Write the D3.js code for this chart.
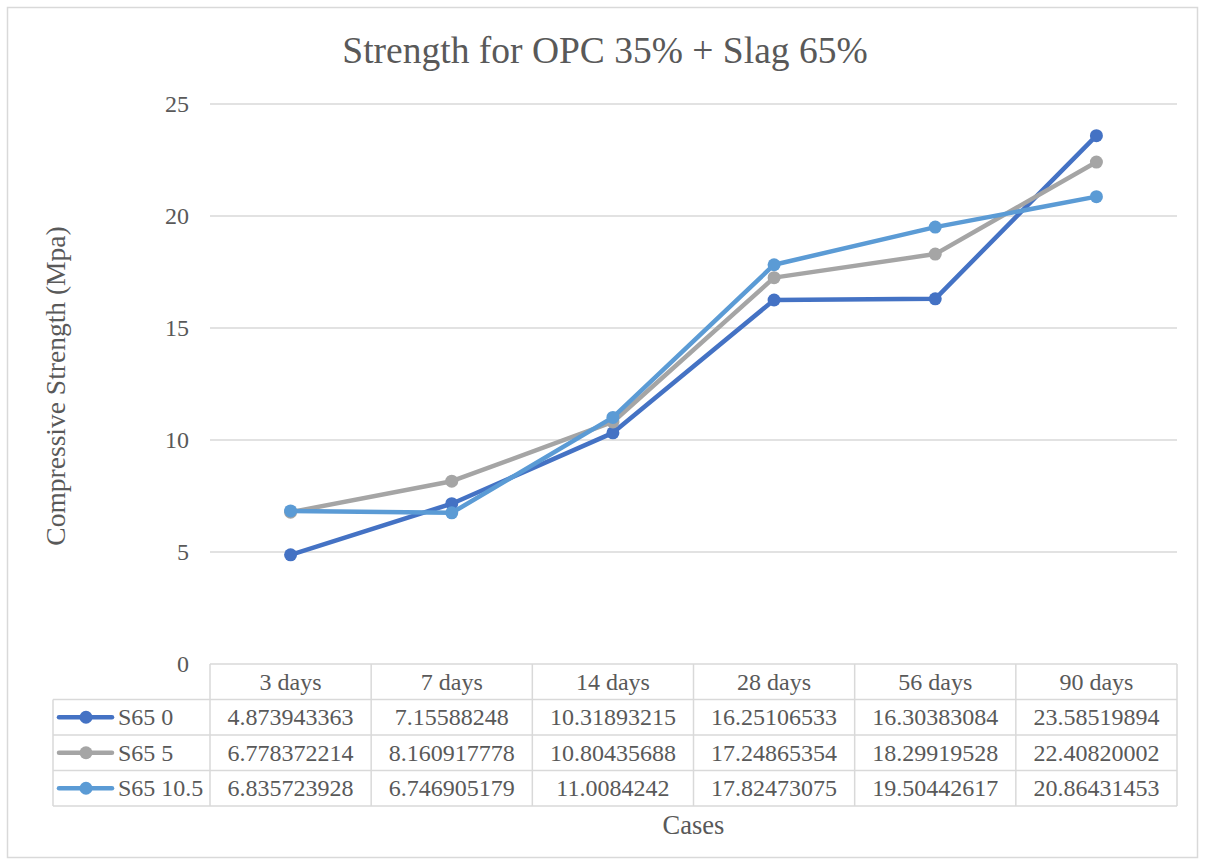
<!DOCTYPE html>
<html lang="en">
<head>
<meta charset="UTF-8">
<title>Strength for OPC 35% + Slag 65%</title>
<script src="https://d3js.org/d3.v7.min.js"></script>
<style>
  body { margin: 0; background: #fff; }
  svg text { font-family: 'Liberation Serif', 'Times New Roman', serif; fill: #595959; }
</style>
</head>
<body>
<div id="chart"></div>
<script>
const categories = ["3 days", "7 days", "14 days", "28 days", "56 days", "90 days"];
const seriesNames = ["S65 0", "S65 5", "S65 10.5"];
const s65_0 = [4.873943363, 7.15588248, 10.31893215, 16.25106533, 16.30383084, 23.58519894];
const s65_5 = [6.778372214, 8.160917778, 10.80435688, 17.24865354, 18.29919528, 22.40820002];
const s65_105 = [6.835723928, 6.746905179, 11.0084242, 17.82473075, 19.50442617, 20.86431453];
const yTicks = [0, 5, 10, 15, 20, 25];
const colors = ["#4472C4", "#A5A5A5", "#5B9BD5"];

const series = seriesNames.map((name, i) => ({ name, values: [s65_0, s65_5, s65_105][i], color: colors[i] }));

const W = 1205, H = 865;
const plotL = 210, plotR = 1177, plotT = 104, plotB = 664;
const rowH = 35.5, legendX = 53;
const fs = "24px";

const svg = d3.select("#chart").append("svg").attr("width", W).attr("height", H);

// outer frame
svg.append("rect").attr("x", 7.5).attr("y", 7.5).attr("width", 1190).attr("height", 850)
  .attr("fill", "#fff").attr("stroke", "#d9d9d9").attr("stroke-width", 1.5);

const x = d3.scaleBand().domain(categories).range([plotL, plotR]).padding(0);
const cx = d => x(d) + x.bandwidth() / 2;
const y = d3.scaleLinear().domain([0, 25]).range([plotB, plotT]);

// title
svg.append("text").attr("x", 605).attr("y", 63).attr("text-anchor", "middle")
  .style("font-size", "37.5px").text("Strength for OPC 35% + Slag 65%");

// gridlines
svg.append("g").selectAll("line").data(yTicks.filter(t => t > 0)).join("line")
  .attr("x1", plotL).attr("x2", plotR)
  .attr("y1", d => y(d)).attr("y2", d => y(d))
  .attr("stroke", "#d9d9d9").attr("stroke-width", 1.5);

// y axis labels
const yAxis = d3.axisLeft(y).tickValues(yTicks).tickSize(0).tickPadding(0);
const gy = svg.append("g").attr("transform", "translate(189,0)").call(yAxis);
gy.select(".domain").remove();
gy.selectAll("text").attr("fill", "#595959")
  .style("font-size", fs).style("font-family", "'Liberation Serif', serif");

svg.append("text").attr("transform", "translate(65,386) rotate(-90)")
  .attr("text-anchor", "middle").style("font-size", "27.5px").text("Compressive Strength (Mpa)");

// lines + markers
const line = d3.line().x((d, i) => cx(categories[i])).y(d => y(d));
const gs = svg.append("g").selectAll("g").data(series).join("g");
gs.append("path").attr("d", d => line(d.values)).attr("fill", "none")
  .attr("stroke", d => d.color).attr("stroke-width", 4.5).attr("stroke-linejoin", "round").attr("stroke-linecap", "round");
gs.selectAll("circle").data(d => d.values.map((v, i) => ({ v, i, color: d.color }))).join("circle")
  .attr("cx", d => cx(categories[d.i])).attr("cy", d => y(d.v)).attr("r", 6.5)
  .attr("fill", d => d.color);

// data table
const tb = svg.append("g");
const border = "#d9d9d9";
const tableBottom = plotB + rowH * 4;
tb.append("line").attr("x1", plotL).attr("x2", plotR).attr("y1", plotB).attr("y2", plotB)
  .attr("stroke", border).attr("stroke-width", 1.5);
d3.range(1, 5).forEach(r => {
  tb.append("line").attr("x1", legendX).attr("x2", plotR)
    .attr("y1", plotB + rowH * r).attr("y2", plotB + rowH * r)
    .attr("stroke", border).attr("stroke-width", 1.5);
});
tb.append("line").attr("x1", legendX).attr("x2", legendX).attr("y1", plotB + rowH).attr("y2", tableBottom)
  .attr("stroke", border).attr("stroke-width", 1.5);
categories.forEach(c => {
  tb.append("line").attr("x1", x(c)).attr("x2", x(c)).attr("y1", plotB).attr("y2", tableBottom)
    .attr("stroke", border).attr("stroke-width", 1.5);
});
tb.append("line").attr("x1", plotR).attr("x2", plotR).attr("y1", plotB).attr("y2", tableBottom)
  .attr("stroke", border).attr("stroke-width", 1.5);

// header
tb.selectAll("text.h").data(categories).join("text").attr("class", "h")
  .attr("x", d => cx(d)).attr("y", plotB + rowH / 2 + 8).attr("text-anchor", "middle")
  .style("font-size", fs).text(d => d);

// rows
series.forEach((s, r) => {
  const ry = plotB + rowH * (r + 1) + rowH / 2;
  tb.append("line").attr("x1", 59).attr("x2", 112).attr("y1", ry).attr("y2", ry)
    .attr("stroke", s.color).attr("stroke-width", 4.5).attr("stroke-linecap", "round");
  tb.append("circle").attr("cx", 86).attr("cy", ry).attr("r", 6.5).attr("fill", s.color);
  tb.append("text").attr("x", 118).attr("y", ry + 8).style("font-size", fs).text(s.name);
  tb.selectAll(null).data(s.values).join("text")
    .attr("x", (d, i) => cx(categories[i])).attr("y", ry + 8).attr("text-anchor", "middle")
    .style("font-size", fs).text(d => String(d));
});

svg.append("text").attr("x", (plotL + plotR) / 2).attr("y", 834)
  .attr("text-anchor", "middle").style("font-size", "26.5px").text("Cases");
</script>
</body>
</html>
